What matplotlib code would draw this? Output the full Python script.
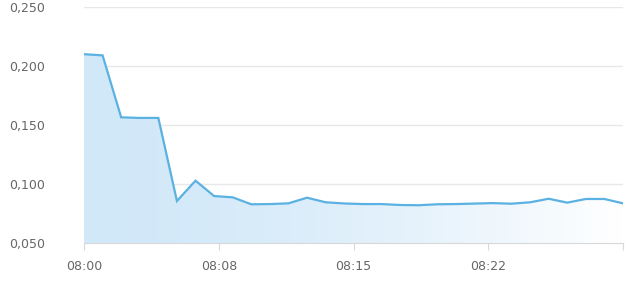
import numpy as np
import matplotlib.pyplot as plt
from matplotlib.ticker import FuncFormatter

# values, one point per sample
values = [0.210, 0.209, 0.1565, 0.156, 0.156, 0.0856, 0.1028, 0.0898, 0.0887, 0.0828,
          0.0830, 0.0836, 0.0884, 0.0845, 0.0835, 0.0830, 0.0830, 0.0822, 0.0820, 0.0828,
          0.0830, 0.0834, 0.0838, 0.0833, 0.0845, 0.0875, 0.0842, 0.0873, 0.0873, 0.0836]
tick_labels = ["08:00", "08:08", "08:15", "08:22", ""]
y_ticks = [0.05, 0.10, 0.15, 0.20, 0.25]

x = np.arange(len(values))
n = len(values) - 1
tick_pos = [0, n / 4, n / 2, 3 * n / 4, n]

fig = plt.figure(figsize=(6.4, 2.85), dpi=100)
ax = fig.add_axes([84 / 640, 1 - 243 / 285, (623 - 84) / 640, (243 - 7) / 285])

line_col = "#5ab1e2"

# gradient fill under the line: light blue on the left fading to white
grad = np.linspace(0, 1, 256).reshape(1, -1)
c0 = np.array([0.82, 0.91, 0.975])
c1 = np.array([1.0, 1.0, 1.0])
w = grad[..., None] ** 1.6
img = c0 * (1 - w) + c1 * w
im = ax.imshow(img, extent=[0, n, 0.05, 0.25], aspect="auto", origin="lower", zorder=1)
poly = ax.fill_between(x, values, 0.05, color="none")
clip = poly.get_paths()[0]
im.set_clip_path(clip, transform=ax.transData)

ax.plot(x, values, color=line_col, lw=1.6, zorder=3, solid_joinstyle="miter")

ax.set_xlim(0, n)
ax.set_ylim(0.05, 0.25)
ax.set_yticks(y_ticks)
ax.yaxis.set_major_formatter(FuncFormatter(lambda v, p: f"{v:.3f}".replace(".", ",")))
ax.set_xticks(tick_pos)
ax.set_xticklabels(tick_labels)

for yv in y_ticks[1:]:
    ax.axhline(yv, color="#e8e8e8", lw=1, zorder=0)

for s in ["top", "right", "left"]:
    ax.spines[s].set_visible(False)
ax.spines["bottom"].set_color("#d8d8d8")
ax.spines["bottom"].set_zorder(4)

ax.tick_params(axis="y", length=0, pad=28, labelsize=9, labelcolor="#666666")
ax.tick_params(axis="x", length=5, color="#d8d8d8", pad=7, labelsize=9, labelcolor="#666666")

fig.savefig("out.png", dpi=100)
